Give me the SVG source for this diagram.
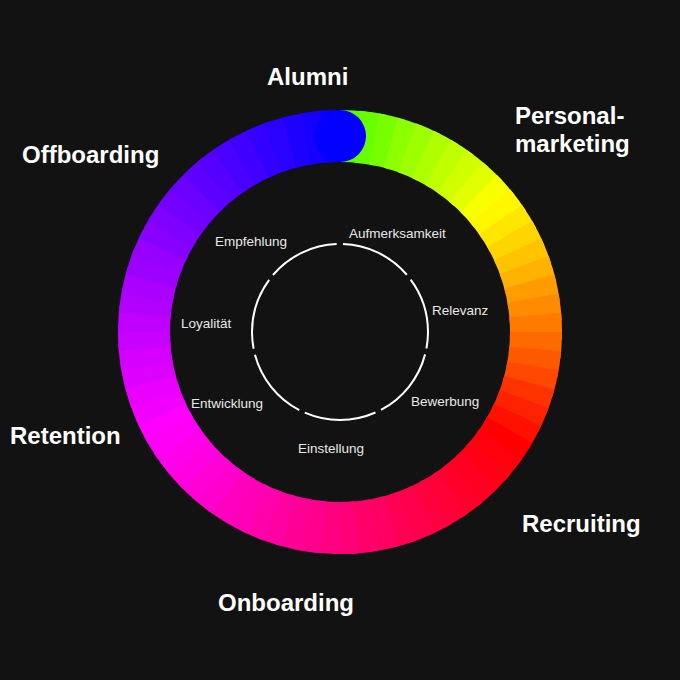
<svg xmlns="http://www.w3.org/2000/svg" width="680" height="680" viewBox="0 0 680 680">
<style>
.seg{fill:none;stroke-width:52;stroke-dasharray:7 353}
.o{font-family:"Liberation Sans",Arial,sans-serif;font-weight:bold;font-size:24px;fill:#fff}
.i{font-family:"Liberation Sans",Arial,sans-serif;font-size:13.5px;fill:#e8e8e8}
</style>
<rect width="680" height="680" fill="#121212"/>
<g id="ring" transform="rotate(-90 340 332)">
<circle class="seg" cx="340" cy="332" r="196" pathLength="360" stroke="hsl(100,100%,50%)" stroke-dashoffset="0"/>
<circle class="seg" cx="340" cy="332" r="196" pathLength="360" stroke="hsl(96,100%,50%)" stroke-dashoffset="-5"/>
<circle class="seg" cx="340" cy="332" r="196" pathLength="360" stroke="hsl(92,100%,50%)" stroke-dashoffset="-10"/>
<circle class="seg" cx="340" cy="332" r="196" pathLength="360" stroke="hsl(87,100%,50%)" stroke-dashoffset="-15"/>
<circle class="seg" cx="340" cy="332" r="196" pathLength="360" stroke="hsl(83,100%,50%)" stroke-dashoffset="-20"/>
<circle class="seg" cx="340" cy="332" r="196" pathLength="360" stroke="hsl(79,100%,50%)" stroke-dashoffset="-25"/>
<circle class="seg" cx="340" cy="332" r="196" pathLength="360" stroke="hsl(75,100%,50%)" stroke-dashoffset="-30"/>
<circle class="seg" cx="340" cy="332" r="196" pathLength="360" stroke="hsl(71,100%,50%)" stroke-dashoffset="-35"/>
<circle class="seg" cx="340" cy="332" r="196" pathLength="360" stroke="hsl(67,100%,50%)" stroke-dashoffset="-40"/>
<circle class="seg" cx="340" cy="332" r="196" pathLength="360" stroke="hsl(62,100%,50%)" stroke-dashoffset="-45"/>
<circle class="seg" cx="340" cy="332" r="196" pathLength="360" stroke="hsl(58,100%,50%)" stroke-dashoffset="-50"/>
<circle class="seg" cx="340" cy="332" r="196" pathLength="360" stroke="hsl(54,100%,50%)" stroke-dashoffset="-55"/>
<circle class="seg" cx="340" cy="332" r="196" pathLength="360" stroke="hsl(50,100%,50%)" stroke-dashoffset="-60"/>
<circle class="seg" cx="340" cy="332" r="196" pathLength="360" stroke="hsl(46,100%,50%)" stroke-dashoffset="-65"/>
<circle class="seg" cx="340" cy="332" r="196" pathLength="360" stroke="hsl(42,100%,50%)" stroke-dashoffset="-70"/>
<circle class="seg" cx="340" cy="332" r="196" pathLength="360" stroke="hsl(37,100%,50%)" stroke-dashoffset="-75"/>
<circle class="seg" cx="340" cy="332" r="196" pathLength="360" stroke="hsl(33,100%,50%)" stroke-dashoffset="-80"/>
<circle class="seg" cx="340" cy="332" r="196" pathLength="360" stroke="hsl(29,100%,50%)" stroke-dashoffset="-85"/>
<circle class="seg" cx="340" cy="332" r="196" pathLength="360" stroke="hsl(25,100%,50%)" stroke-dashoffset="-90"/>
<circle class="seg" cx="340" cy="332" r="196" pathLength="360" stroke="hsl(21,100%,50%)" stroke-dashoffset="-95"/>
<circle class="seg" cx="340" cy="332" r="196" pathLength="360" stroke="hsl(17,100%,50%)" stroke-dashoffset="-100"/>
<circle class="seg" cx="340" cy="332" r="196" pathLength="360" stroke="hsl(12,100%,50%)" stroke-dashoffset="-105"/>
<circle class="seg" cx="340" cy="332" r="196" pathLength="360" stroke="hsl(8,100%,50%)" stroke-dashoffset="-110"/>
<circle class="seg" cx="340" cy="332" r="196" pathLength="360" stroke="hsl(4,100%,50%)" stroke-dashoffset="-115"/>
<circle class="seg" cx="340" cy="332" r="196" pathLength="360" stroke="hsl(0,100%,50%)" stroke-dashoffset="-120"/>
<circle class="seg" cx="340" cy="332" r="196" pathLength="360" stroke="hsl(357,100%,50%)" stroke-dashoffset="-125"/>
<circle class="seg" cx="340" cy="332" r="196" pathLength="360" stroke="hsl(355,100%,50%)" stroke-dashoffset="-130"/>
<circle class="seg" cx="340" cy="332" r="196" pathLength="360" stroke="hsl(352,100%,50%)" stroke-dashoffset="-135"/>
<circle class="seg" cx="340" cy="332" r="196" pathLength="360" stroke="hsl(350,100%,50%)" stroke-dashoffset="-140"/>
<circle class="seg" cx="340" cy="332" r="196" pathLength="360" stroke="hsl(347,100%,50%)" stroke-dashoffset="-145"/>
<circle class="seg" cx="340" cy="332" r="196" pathLength="360" stroke="hsl(345,100%,50%)" stroke-dashoffset="-150"/>
<circle class="seg" cx="340" cy="332" r="196" pathLength="360" stroke="hsl(342,100%,50%)" stroke-dashoffset="-155"/>
<circle class="seg" cx="340" cy="332" r="196" pathLength="360" stroke="hsl(340,100%,50%)" stroke-dashoffset="-160"/>
<circle class="seg" cx="340" cy="332" r="196" pathLength="360" stroke="hsl(337,100%,50%)" stroke-dashoffset="-165"/>
<circle class="seg" cx="340" cy="332" r="196" pathLength="360" stroke="hsl(335,100%,50%)" stroke-dashoffset="-170"/>
<circle class="seg" cx="340" cy="332" r="196" pathLength="360" stroke="hsl(332,100%,50%)" stroke-dashoffset="-175"/>
<circle class="seg" cx="340" cy="332" r="196" pathLength="360" stroke="hsl(330,100%,50%)" stroke-dashoffset="-180"/>
<circle class="seg" cx="340" cy="332" r="196" pathLength="360" stroke="hsl(327,100%,50%)" stroke-dashoffset="-185"/>
<circle class="seg" cx="340" cy="332" r="196" pathLength="360" stroke="hsl(325,100%,50%)" stroke-dashoffset="-190"/>
<circle class="seg" cx="340" cy="332" r="196" pathLength="360" stroke="hsl(322,100%,50%)" stroke-dashoffset="-195"/>
<circle class="seg" cx="340" cy="332" r="196" pathLength="360" stroke="hsl(320,100%,50%)" stroke-dashoffset="-200"/>
<circle class="seg" cx="340" cy="332" r="196" pathLength="360" stroke="hsl(317,100%,50%)" stroke-dashoffset="-205"/>
<circle class="seg" cx="340" cy="332" r="196" pathLength="360" stroke="hsl(315,100%,50%)" stroke-dashoffset="-210"/>
<circle class="seg" cx="340" cy="332" r="196" pathLength="360" stroke="hsl(312,100%,50%)" stroke-dashoffset="-215"/>
<circle class="seg" cx="340" cy="332" r="196" pathLength="360" stroke="hsl(310,100%,50%)" stroke-dashoffset="-220"/>
<circle class="seg" cx="340" cy="332" r="196" pathLength="360" stroke="hsl(307,100%,50%)" stroke-dashoffset="-225"/>
<circle class="seg" cx="340" cy="332" r="196" pathLength="360" stroke="hsl(305,100%,50%)" stroke-dashoffset="-230"/>
<circle class="seg" cx="340" cy="332" r="196" pathLength="360" stroke="hsl(302,100%,50%)" stroke-dashoffset="-235"/>
<circle class="seg" cx="340" cy="332" r="196" pathLength="360" stroke="hsl(300,100%,50%)" stroke-dashoffset="-240"/>
<circle class="seg" cx="340" cy="332" r="196" pathLength="360" stroke="hsl(297,100%,50%)" stroke-dashoffset="-245"/>
<circle class="seg" cx="340" cy="332" r="196" pathLength="360" stroke="hsl(295,100%,50%)" stroke-dashoffset="-250"/>
<circle class="seg" cx="340" cy="332" r="196" pathLength="360" stroke="hsl(292,100%,50%)" stroke-dashoffset="-255"/>
<circle class="seg" cx="340" cy="332" r="196" pathLength="360" stroke="hsl(290,100%,50%)" stroke-dashoffset="-260"/>
<circle class="seg" cx="340" cy="332" r="196" pathLength="360" stroke="hsl(287,100%,50%)" stroke-dashoffset="-265"/>
<circle class="seg" cx="340" cy="332" r="196" pathLength="360" stroke="hsl(285,100%,50%)" stroke-dashoffset="-270"/>
<circle class="seg" cx="340" cy="332" r="196" pathLength="360" stroke="hsl(282,100%,50%)" stroke-dashoffset="-275"/>
<circle class="seg" cx="340" cy="332" r="196" pathLength="360" stroke="hsl(280,100%,50%)" stroke-dashoffset="-280"/>
<circle class="seg" cx="340" cy="332" r="196" pathLength="360" stroke="hsl(277,100%,50%)" stroke-dashoffset="-285"/>
<circle class="seg" cx="340" cy="332" r="196" pathLength="360" stroke="hsl(275,100%,50%)" stroke-dashoffset="-290"/>
<circle class="seg" cx="340" cy="332" r="196" pathLength="360" stroke="hsl(272,100%,50%)" stroke-dashoffset="-295"/>
<circle class="seg" cx="340" cy="332" r="196" pathLength="360" stroke="hsl(270,100%,50%)" stroke-dashoffset="-300"/>
<circle class="seg" cx="340" cy="332" r="196" pathLength="360" stroke="hsl(267,100%,50%)" stroke-dashoffset="-305"/>
<circle class="seg" cx="340" cy="332" r="196" pathLength="360" stroke="hsl(265,100%,50%)" stroke-dashoffset="-310"/>
<circle class="seg" cx="340" cy="332" r="196" pathLength="360" stroke="hsl(262,100%,50%)" stroke-dashoffset="-315"/>
<circle class="seg" cx="340" cy="332" r="196" pathLength="360" stroke="hsl(260,100%,50%)" stroke-dashoffset="-320"/>
<circle class="seg" cx="340" cy="332" r="196" pathLength="360" stroke="hsl(257,100%,50%)" stroke-dashoffset="-325"/>
<circle class="seg" cx="340" cy="332" r="196" pathLength="360" stroke="hsl(255,100%,50%)" stroke-dashoffset="-330"/>
<circle class="seg" cx="340" cy="332" r="196" pathLength="360" stroke="hsl(252,100%,50%)" stroke-dashoffset="-335"/>
<circle class="seg" cx="340" cy="332" r="196" pathLength="360" stroke="hsl(250,100%,50%)" stroke-dashoffset="-340"/>
<circle class="seg" cx="340" cy="332" r="196" pathLength="360" stroke="hsl(247,100%,50%)" stroke-dashoffset="-345"/>
<circle class="seg" cx="340" cy="332" r="196" pathLength="360" stroke="hsl(245,100%,50%)" stroke-dashoffset="-350"/>
<circle class="seg" cx="340" cy="332" r="196" pathLength="360" stroke="hsl(242,100%,50%)" stroke-dashoffset="-355" style="stroke-dasharray:5 355"/>
</g>
<circle id="cap" cx="340" cy="136" r="26" fill="hsl(241,100%,50%)"/>
<g id="inner-cycle">
<circle cx="340" cy="332" r="88" fill="none" stroke="#fff" stroke-width="2" pathLength="360" stroke-dasharray="47.4 4" stroke-dashoffset="-2" transform="rotate(-90 340 332)"/>
</g>
<g id="outer-labels">
<text class="o" x="267" y="85">Alumni</text>
<text class="o" x="515" y="124">Personal-</text>
<text class="o" x="515" y="152">marketing</text>
<text class="o" x="22" y="163">Offboarding</text>
<text class="o" x="10" y="444">Retention</text>
<text class="o" x="522" y="532">Recruiting</text>
<text class="o" x="218" y="611">Onboarding</text>
</g>
<g id="inner-labels">
<text class="i" x="349" y="238">Aufmerksamkeit</text>
<text class="i" x="432" y="315">Relevanz</text>
<text class="i" x="411" y="406">Bewerbung</text>
<text class="i" x="298" y="453">Einstellung</text>
<text class="i" x="191" y="408">Entwicklung</text>
<text class="i" x="181" y="328">Loyalität</text>
<text class="i" x="215" y="246">Empfehlung</text>
</g>
</svg>
